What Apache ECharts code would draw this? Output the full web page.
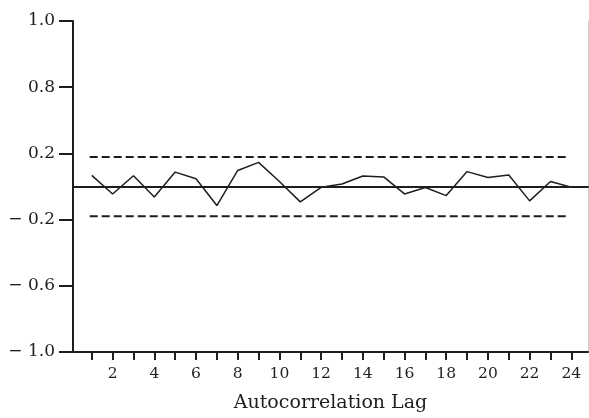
<!DOCTYPE html>
<html lang="en">
<head>
    <meta charset="UTF-8">
    <title>Autocorrelation</title>
    <script src="https://cdn.jsdelivr.net/npm/echarts@6/dist/echarts.min.js"></script>
</head>
<style>
    *{
        margin: 0;
        padding: 0;
    }
    html , body{
        width: 589px;
        height: 418px;
        background: #fff;
    }
    .container{
        width: 589px;
        height: 418px;
    }
</style>
<body>
<div class="container"></div>
<script>
    // autocorrelation at each lag
    const lags = [1, 2, 3, 4, 5, 6, 7, 8, 9, 10, 11, 12, 13, 14, 15, 16, 17, 18, 19, 20, 21, 22, 23, 24];
    const acf = [0.067, -0.045, 0.065, -0.064, 0.087, 0.047, -0.115, 0.097, 0.146, 0.03, -0.093, -0.005,
                 0.015, 0.063, 0.058, -0.045, -0.006, -0.055, 0.09, 0.054, 0.07, -0.087, 0.03, -0.005];
    // confidence band (dashed lines)
    const bandLags = [0.9, 23.9];
    const upperBound = 0.178;
    const lowerBound = -0.18;
    // tick labels
    const xLabelLags = [2, 4, 6, 8, 10, 12, 14, 16, 18, 20, 22, 24];
    const yTicks = [-1.0, -0.6, -0.2, 0.2, 0.6, 1.0];
    const yTickLabels = ['\u2212 1.0', '\u2212 0.6', '\u2212 0.2', '0.2', '0.8', '1.0'];

    let container = document.querySelector('.container');
    let mycharts = echarts.init(container);

    const ink = '#1e1e1e';
    const serif = 'DejaVu Serif';

    let options = {
        animation: false,
        backgroundColor: '#fff',
        grid: {
            left: 73,
            right: 1,
            top: 21,
            bottom: 62
        },
        xAxis: [{
            type: 'value',
            min: 0.1,
            max: 24.8,
            name: 'Autocorrelation Lag',
            nameLocation: 'middle',
            nameGap: 42,
            nameTextStyle: {
                fontFamily: serif,
                fontSize: 19,
                color: ink
            },
            axisLine: {
                onZero: false,
                lineStyle: {color: ink, width: 2}
            },
            axisTick: {
                customValues: lags,
                length: 8,
                lineStyle: {color: ink, width: 2}
            },
            axisLabel: {
                customValues: xLabelLags,
                margin: 14,
                fontFamily: serif,
                fontSize: 15.5,
                color: ink
            },
            splitLine: {show: false}
        }, {
            type: 'value',
            position: 'top',
            min: 0.1,
            max: 24.8,
            axisLine: {show: true, lineStyle: {color: ink, width: 2}},
            axisTick: {show: false},
            axisLabel: {show: false},
            splitLine: {show: false}
        }],
        yAxis: [{
            type: 'value',
            min: -1,
            max: 1,
            axisLine: {
                show: true,
                onZero: false,
                lineStyle: {color: ink, width: 2}
            },
            axisTick: {
                show: true,
                customValues: yTicks,
                length: 14,
                lineStyle: {color: ink, width: 2}
            },
            axisLabel: {
                customValues: yTicks,
                margin: 18,
                fontFamily: serif,
                fontSize: 17,
                color: ink,
                formatter: function (v) {
                    let i = yTicks.findIndex(t => Math.abs(t - v) < 1e-6);
                    return i >= 0 ? yTickLabels[i] : '';
                }
            },
            splitLine: {show: false}
        }, {
            type: 'value',
            position: 'right',
            min: -1,
            max: 1,
            axisLine: {show: true, lineStyle: {color: '#ccc', width: 1}},
            axisTick: {show: false},
            axisLabel: {show: false},
            splitLine: {show: false}
        }],
        series: [{
            name: 'acf',
            type: 'line',
            data: lags.map((l, i) => [l, acf[i]]),
            symbol: 'none',
            lineStyle: {color: ink, width: 1.5},
            markLine: {
                silent: true,
                symbol: 'none',
                label: {show: false},
                lineStyle: {color: ink, width: 2, type: 'solid'},
                data: [{yAxis: 0}]
            }
        }, {
            name: 'upper',
            type: 'line',
            data: bandLags.map(l => [l, upperBound]),
            symbol: 'none',
            lineStyle: {color: ink, width: 2, type: [8, 4]}
        }, {
            name: 'lower',
            type: 'line',
            data: bandLags.map(l => [l, lowerBound]),
            symbol: 'none',
            lineStyle: {color: ink, width: 2, type: [8, 4]}
        }]
    };

    mycharts.setOption(options);
</script>
</body>
</html>
